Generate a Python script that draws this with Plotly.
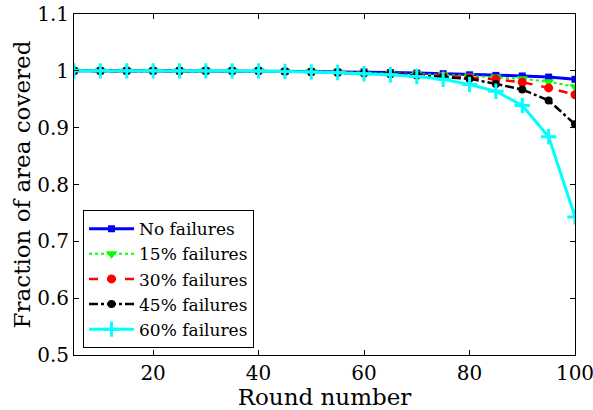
import plotly.graph_objects as go

rounds = list(range(5, 101, 5))
no_fail = [1.0, 1.0, 1.0, 1.0, 1.0, 1.0, 1.0, 1.0, 0.999, 0.999, 0.998, 0.998, 0.997, 0.996, 0.995, 0.993, 0.992, 0.991, 0.989, 0.985]
fail15 = [1.0, 1.0, 1.0, 1.0, 1.0, 1.0, 1.0, 1.0, 0.999, 0.999, 0.998, 0.997, 0.996, 0.995, 0.993, 0.991, 0.989, 0.986, 0.981, 0.972]
fail30 = [1.0, 1.0, 1.0, 1.0, 1.0, 1.0, 1.0, 1.0, 0.999, 0.998, 0.997, 0.996, 0.995, 0.993, 0.991, 0.988, 0.985, 0.980, 0.970, 0.958]
fail45 = [1.0, 1.0, 1.0, 1.0, 1.0, 1.0, 1.0, 1.0, 0.999, 0.998, 0.997, 0.996, 0.994, 0.992, 0.989, 0.986, 0.977, 0.967, 0.948, 0.906]
fail60 = [1.0, 1.0, 1.0, 1.0, 1.0, 1.0, 1.0, 1.0, 0.999, 0.998, 0.997, 0.995, 0.993, 0.990, 0.985, 0.976, 0.964, 0.939, 0.884, 0.743]

names = ["No failures", "15% failures", "30% failures", "45% failures", "60% failures"]
series = [no_fail, fail15, fail30, fail45, fail60]
colors = ["#0000ff", "#00ff00", "#ff0000", "#000000", "#00ffff"]
dashes = ["solid", "dot", "dash", "dashdot", "solid"]
widths = [3, 2, 2.5, 2.5, 3]
symbols = ["square", "triangle-down", "circle", "circle", "cross-thin"]
msizes = [7, 10, 9, 8, 11]

fig = go.Figure()
for name, ys, c, d, w, s, ms in zip(names, series, colors, dashes, widths, symbols, msizes):
    marker = dict(symbol=s, size=ms, color=c)
    if s == "cross-thin":
        marker["line"] = dict(color=c, width=3)
    fig.add_trace(go.Scatter(x=rounds, y=ys, name=name, mode="lines+markers",
                             line=dict(color=c, dash=d, width=w), marker=marker))

font = "DejaVu Serif, Liberation Serif, serif"
fig.update_layout(
    width=593, height=410,
    margin=dict(l=74, r=18, t=14, b=55, autoexpand=False),
    paper_bgcolor="white", plot_bgcolor="white",
    font=dict(family=font, size=20, color="black"),
    showlegend=True,
    legend=dict(x=0.018, y=0.02, xanchor="left", yanchor="bottom",
                bgcolor="white", bordercolor="black", borderwidth=1,
                font=dict(family=font, size=17), tracegroupgap=0,
                itemwidth=45),
    xaxis=dict(range=[5, 100], tickvals=[20, 40, 60, 80, 100], automargin=False,
               ticklabeloverflow="allow",
               tickfont=dict(family=font, size=20),
               title=dict(text="Round number", font=dict(family=font, size=23), standoff=0),
               showgrid=False, zeroline=False, showline=True, linecolor="black",
               linewidth=1, mirror="ticks", ticks="inside", ticklen=5, tickcolor="black"),
    yaxis=dict(range=[0.5, 1.1], tickvals=[0.5, 0.6, 0.7, 0.8, 0.9, 1.0, 1.1], automargin=False,
               ticklabeloverflow="allow",
               ticktext=["0.5", "0.6", "0.7", "0.8", "0.9", "1", "1.1"],
               tickfont=dict(family=font, size=20),
               title=dict(text="Fraction of area covered", font=dict(family=font, size=23), standoff=0),
               showgrid=False, zeroline=False, showline=True, linecolor="black",
               linewidth=1, mirror="ticks", ticks="inside", ticklen=5, tickcolor="black"),
)
fig.write_html("out.html", config={"displayModeBar": False},
               post_script="document.body.style.margin='0';")
